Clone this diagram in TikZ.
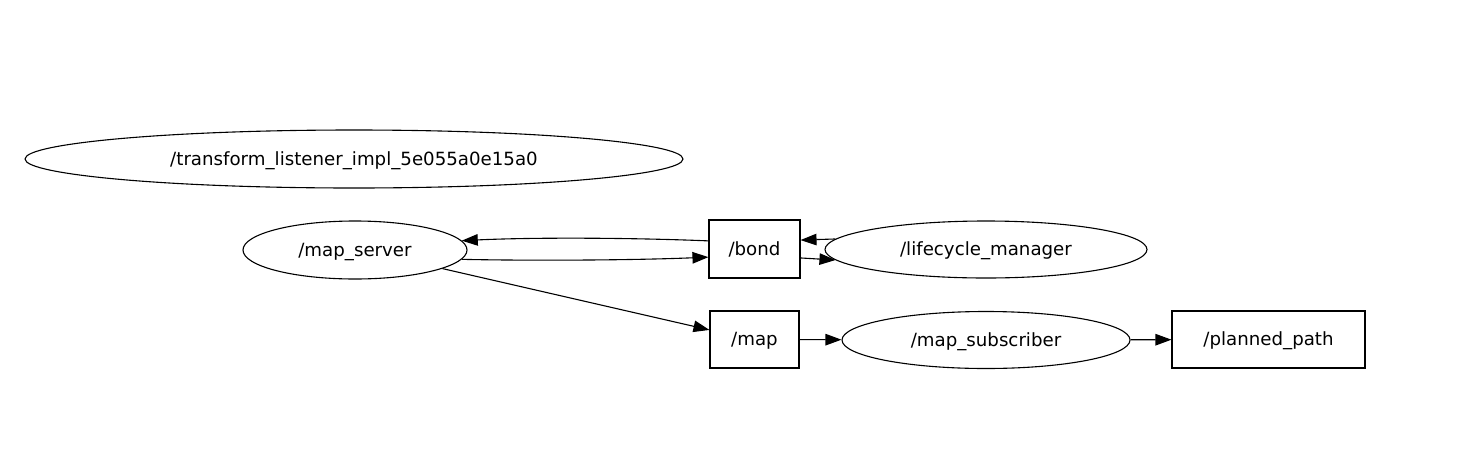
\documentclass[tikz,border=0pt]{standalone}
\usepackage{fontspec}
\setmainfont{DejaVu Sans}
\usetikzlibrary{shapes.geometric,arrows.meta}
\begin{document}
\begin{tikzpicture}[x=1pt,y=-1pt,
  every node/.style={font=\fontsize{18.2}{21}\selectfont, inner sep=0pt, line width=1.1pt, text height=17pt, text depth=4.2pt},
  nodeell/.style={draw, ellipse},
  topicbox/.style={draw, rectangle},
  arr/.style={-{Triangle[length=16pt,width=11.5pt]}, line width=1.1pt}]
\useasboundingbox (0,0) rectangle (1468,456);
\node[nodeell, minimum width=658, minimum height=58] (tf) at (354,159) {/transform\_listener\_impl\_5e055a0e15a0};
\node[nodeell, minimum width=224, minimum height=58] (ms) at (355,250) {/map\_server};
\node[topicbox, minimum width=91, minimum height=58] (bond) at (754.5,249) {/bond};
\node[nodeell, minimum width=322, minimum height=57] (lm) at (986,249.5) {/lifecycle\_manager};
\node[topicbox, minimum width=89, minimum height=57] (map) at (754.5,339.5) {/map};
\node[nodeell, minimum width=288, minimum height=57] (sub) at (986,340) {/map\_subscriber};
\node[topicbox, minimum width=193, minimum height=57] (pp) at (1268.5,339.5) {/planned\_path};
\draw[arr] (bond.170) .. controls (640,238) and (540,237) .. (ms.5);
\draw[arr] (ms.-5) .. controls (540,261) and (640,260) .. (bond.190);
\draw[arr] (lm.176) -- (bond.11);
\draw[arr] (bond.-11) -- (lm.184);
\draw[arr] (ms.-12) -- (map.168);
\draw[arr] (map) -- (sub);
\draw[arr] (sub) -- (pp);
\end{tikzpicture}
\end{document}
